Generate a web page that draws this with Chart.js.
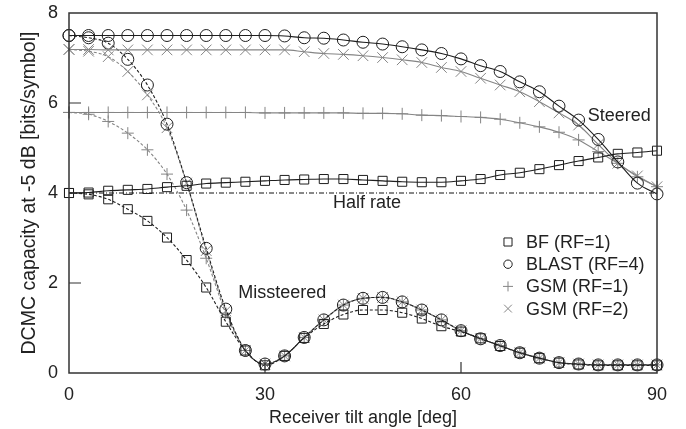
<!DOCTYPE html>
<html>
<head>
<meta charset="utf-8">
<script src="https://cdn.jsdelivr.net/npm/chart.js"></script>
<style>
  html, body { margin: 0; padding: 0; background: #fff; }
  #wrap { width: 686px; height: 429px; }
</style>
</head>
<body>
<div id="wrap"><canvas id="capChart" width="686" height="429"></canvas></div>
<script>
// Receiver tilt angles [deg]
const angles = [0, 3, 6, 9, 12, 15, 18, 21, 24, 27, 30, 33, 36, 39, 42, 45, 48, 51, 54, 57, 60, 63, 66, 69, 72, 75, 78, 81, 84, 87, 90];

// DCMC capacity at -5 dB [bits/symbol]
const bfSteered = [4.00, 4.01, 4.05, 4.07, 4.09, 4.13, 4.16, 4.21, 4.23, 4.25, 4.27, 4.29, 4.30, 4.31, 4.31, 4.29, 4.27, 4.25, 4.24, 4.24, 4.27, 4.31, 4.40, 4.45, 4.53, 4.62, 4.71, 4.79, 4.87, 4.90, 4.94];
const bfMissteered = [4.00, 3.97, 3.86, 3.64, 3.38, 3.01, 2.51, 1.90, 1.14, 0.50, 0.17, 0.38, 0.78, 1.09, 1.30, 1.40, 1.40, 1.34, 1.21, 1.04, 0.92, 0.77, 0.60, 0.45, 0.33, 0.23, 0.19, 0.17, 0.17, 0.17, 0.17];
const blastSteered = [7.50, 7.50, 7.50, 7.50, 7.50, 7.50, 7.50, 7.50, 7.50, 7.50, 7.50, 7.49, 7.45, 7.44, 7.40, 7.35, 7.31, 7.25, 7.18, 7.10, 6.98, 6.83, 6.70, 6.47, 6.25, 5.93, 5.62, 5.19, 4.69, 4.22, 3.98];
const blastMissteered = [7.50, 7.45, 7.33, 6.97, 6.40, 5.53, 4.23, 2.77, 1.42, 0.50, 0.20, 0.38, 0.79, 1.18, 1.51, 1.66, 1.68, 1.58, 1.40, 1.18, 0.94, 0.76, 0.61, 0.45, 0.33, 0.23, 0.20, 0.18, 0.18, 0.18, 0.18];
const gsm1Steered = [5.79, 5.79, 5.79, 5.79, 5.79, 5.79, 5.79, 5.79, 5.79, 5.79, 5.78, 5.78, 5.78, 5.78, 5.78, 5.77, 5.77, 5.76, 5.73, 5.72, 5.70, 5.68, 5.64, 5.56, 5.47, 5.35, 5.18, 4.92, 4.66, 4.36, 4.14];
const gsm1Missteered = [5.79, 5.75, 5.59, 5.33, 4.96, 4.42, 3.62, 2.55, 1.33, 0.50, 0.20, 0.38, 0.79, 1.18, 1.51, 1.66, 1.68, 1.58, 1.40, 1.18, 0.94, 0.76, 0.61, 0.45, 0.33, 0.23, 0.20, 0.18, 0.18, 0.18, 0.18];
const gsm2Steered = [7.19, 7.19, 7.18, 7.18, 7.18, 7.18, 7.18, 7.18, 7.18, 7.18, 7.18, 7.18, 7.14, 7.10, 7.08, 7.05, 7.01, 6.96, 6.90, 6.79, 6.70, 6.55, 6.40, 6.25, 6.03, 5.78, 5.51, 5.08, 4.66, 4.38, 4.14];
const gsm2Missteered = [7.19, 7.15, 7.03, 6.70, 6.18, 5.45, 4.22, 2.72, 1.38, 0.50, 0.20, 0.38, 0.79, 1.18, 1.51, 1.66, 1.68, 1.58, 1.40, 1.18, 0.94, 0.76, 0.61, 0.45, 0.33, 0.23, 0.20, 0.18, 0.18, 0.18, 0.18];

// Half-rate reference line
const halfRateX = [0, 90];
const halfRateY = [4, 4];

// Axis ticks
const xTicks = [0, 30, 60, 90];
const yTicks = [0, 2, 4, 6, 8];

const FONT = '"Liberation Sans", Arial, sans-serif';
const INK = '#222';
const BLACK = '#1e1e1e';
const GREY = '#858585';

const toPoints = (xs, ys) => xs.map((x, i) => ({ x: x, y: ys[i] }));

function series(label, values, style, color, radius, dashed, inLegend) {
    return {
        label: label,
        data: toPoints(angles, values),
        borderColor: color,
        backgroundColor: 'transparent',
        borderWidth: 1.1,
        borderDash: dashed ? [3, 2] : [],
        pointStyle: style,
        pointRadius: radius,
        pointBorderColor: color,
        pointBackgroundColor: 'transparent',
        pointBorderWidth: 1,
        cubicInterpolationMode: 'monotone',
        clip: false,
        inLegend: inLegend
    };
}

const datasets = [
    series('BF (RF=1)', bfSteered, 'rect', BLACK, 6.4, false, true),
    series('BLAST (RF=4)', blastSteered, 'circle', BLACK, 6, false, true),
    series('GSM (RF=1)', gsm1Steered, 'cross', GREY, 6, false, true),
    series('GSM (RF=2)', gsm2Steered, 'crossRot', GREY, 7.5, false, true),
    series('BF missteered', bfMissteered, 'rect', BLACK, 6.4, true, false),
    series('BLAST missteered', blastMissteered, 'circle', BLACK, 6, true, false),
    series('GSM1 missteered', gsm1Missteered, 'cross', GREY, 6, true, false),
    series('GSM2 missteered', gsm2Missteered, 'crossRot', GREY, 7.5, true, false),
    {
        label: 'Half rate',
        data: toPoints(halfRateX, halfRateY),
        borderColor: '#111',
        borderWidth: 1,
        borderDash: [5, 2, 1, 2],
        pointRadius: 0,
        clip: false,
        inLegend: false
    }
];

// fixed axis boxes, no label overhang padding
function fixBox(size) {
    return s => {
        if (s.isHorizontal()) s.height = size; else s.width = size;
        s.paddingTop = s.paddingBottom = s.paddingLeft = s.paddingRight = 0;
    };
}

// --- Frame, inner ticks, text labels and legend ---
const decorations = {
    id: 'decorations',
    afterDraw(chart) {
        const ctx = chart.ctx;
        const { left, right, top, bottom } = chart.chartArea;
        const xs = chart.scales.x, ys = chart.scales.y;
        ctx.save();

        // frame
        ctx.strokeStyle = '#333';
        ctx.lineWidth = 1.5;
        ctx.strokeRect(left, top, right - left, bottom - top);

        // inward tick marks
        ctx.lineWidth = 1.2;
        ctx.beginPath();
        xTicks.slice(1, -1).forEach(v => {
            const px = xs.getPixelForValue(v);
            ctx.moveTo(px, bottom);
            ctx.lineTo(px, bottom - 11);
        });
        yTicks.slice(1, -1).forEach(v => {
            const py = ys.getPixelForValue(v);
            ctx.moveTo(left, py);
            ctx.lineTo(left + 12, py);
        });
        ctx.stroke();

        // curve annotations
        ctx.fillStyle = INK;
        ctx.font = '18px ' + FONT;
        ctx.textBaseline = 'middle';
        ctx.textAlign = 'center';
        ctx.fillText('Half rate', xs.getPixelForValue(45.6), ys.getPixelForValue(3.78));
        ctx.textAlign = 'left';
        ctx.fillText('Steered', xs.getPixelForValue(79.4), ys.getPixelForValue(5.72));
        ctx.fillText('Missteered', xs.getPixelForValue(25.9), ys.getPixelForValue(1.78));

        // legend
        const legendSizes = { rect: 5.7, circle: 4.2, cross: 5, crossRot: 5.5 };
        let rowY = 242;
        chart.data.datasets.filter(ds => ds.inLegend).forEach(ds => {
            const mx = 508;
            const r = legendSizes[ds.pointStyle];
            ctx.strokeStyle = ds.borderColor;
            ctx.lineWidth = 1;
            ctx.beginPath();
            if (ds.pointStyle === 'rect') {
                const h = r * Math.SQRT1_2;
                ctx.rect(mx - h, rowY - h, 2 * h, 2 * h);
            } else if (ds.pointStyle === 'circle') {
                ctx.arc(mx, rowY, r, 0, Math.PI * 2);
            } else if (ds.pointStyle === 'cross') {
                ctx.moveTo(mx - r, rowY); ctx.lineTo(mx + r, rowY);
                ctx.moveTo(mx, rowY - r); ctx.lineTo(mx, rowY + r);
            } else {
                const d = r * Math.SQRT1_2;
                ctx.moveTo(mx - d, rowY - d); ctx.lineTo(mx + d, rowY + d);
                ctx.moveTo(mx - d, rowY + d); ctx.lineTo(mx + d, rowY - d);
            }
            ctx.stroke();
            ctx.fillStyle = INK;
            ctx.fillText(ds.label, 526, rowY + 1);
            rowY += 22.2;
        });
        ctx.restore();
    }
};

const capCtx = document.getElementById('capChart').getContext('2d');
new Chart(capCtx, {
    type: 'line',
    data: { datasets: datasets },
    options: {
        responsive: false,
        animation: false,
        events: [],
        layout: { padding: { top: 13, right: 29, left: 0, bottom: 0 } },
        plugins: { legend: { display: false }, tooltip: { enabled: false } },
        scales: {
            x: {
                type: 'linear',
                min: 0,
                max: 90,
                afterFit: fixBox(56),
                afterBuildTicks: s => { s.ticks = xTicks.map(v => ({ value: v })); },
                grid: { display: false, drawTicks: false },
                border: { display: false },
                ticks: { color: INK, font: { family: FONT, size: 18 }, padding: 11, maxRotation: 0 },
                title: {
                    display: true,
                    text: 'Receiver tilt angle [deg]',
                    color: INK,
                    font: { family: FONT, size: 18 },
                    padding: { top: 0, bottom: 0 }
                }
            },
            y: {
                min: 0,
                max: 8,
                afterFit: fixBox(69),
                afterBuildTicks: s => { s.ticks = yTicks.map(v => ({ value: v })); },
                grid: { display: false, drawTicks: false },
                border: { display: false },
                ticks: { color: INK, font: { family: FONT, size: 18 }, padding: 11 },
                title: {
                    display: true,
                    text: 'DCMC capacity at -5 dB [bits/symbol]',
                    color: INK,
                    font: { family: FONT, size: 19.5 },
                    padding: { top: 18, bottom: 0 }
                }
            }
        }
    },
    plugins: [decorations]
});
</script>
</body>
</html>
